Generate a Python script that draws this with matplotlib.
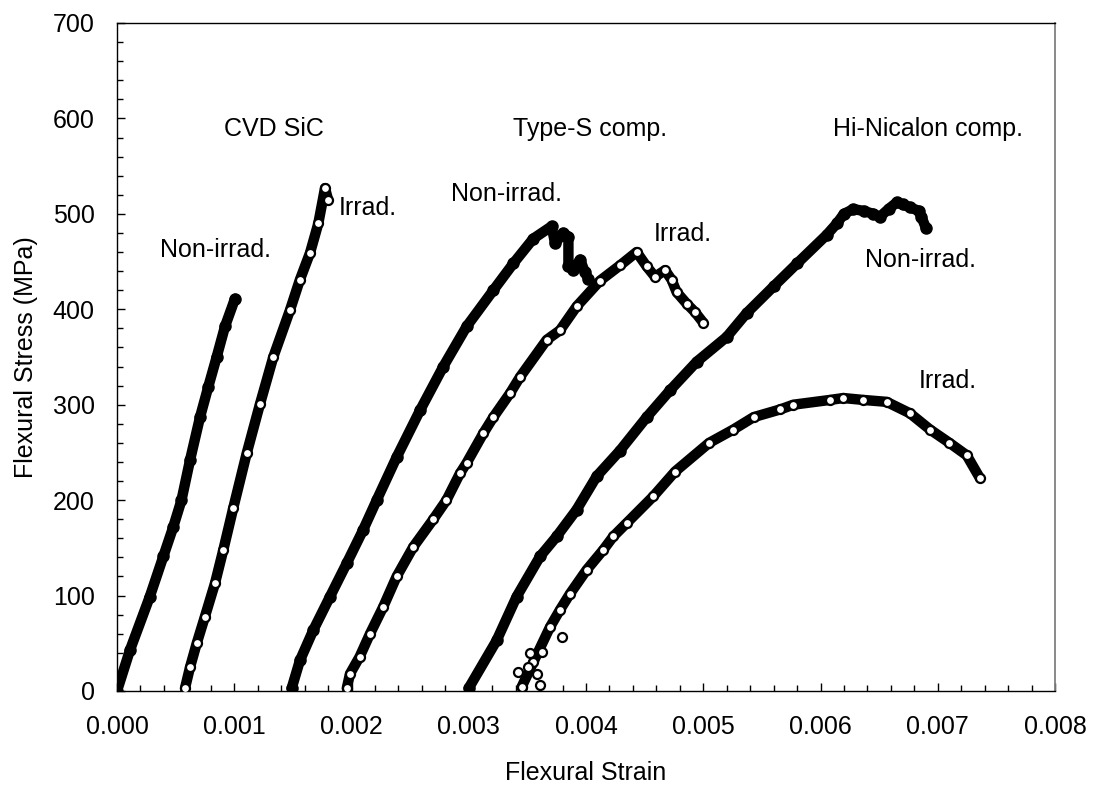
import matplotlib
matplotlib.use("Agg")
import matplotlib.pyplot as plt
from matplotlib.ticker import MultipleLocator, FormatStrFormatter

plt.rcParams['font.family'] = ['Liberation Sans', 'DejaVu Sans']

# ---- data ----
cvd_non_x = [0.0, 0.000111, 0.00028, 0.000395, 0.00048, 0.00055, 0.000623, 0.000708,
             0.000779, 0.00085, 0.000921, 0.001006]
cvd_non_y = [0, 43, 99, 141, 172, 200, 242, 287, 319, 350, 382, 411]

cvd_irr_x = [0.00058, 0.000623, 0.00068, 0.00075, 0.000836, 0.000907, 0.000992, 0.001106,
             0.00122, 0.001333, 0.001475, 0.00156, 0.001646, 0.001717, 0.001774, 0.001802]
cvd_irr_y = [3, 25, 50, 78, 113, 148, 192, 249, 301, 350, 399, 431, 459, 490, 527, 514]

tys_non_x = [0.00149, 0.00156, 0.001675, 0.001817, 0.00196, 0.0021, 0.002215, 0.002385,
             0.002584, 0.002783, 0.002982, 0.00321, 0.00338, 0.00355, 0.003707, 0.003736,
             0.003807, 0.00385, 0.00385, 0.00389, 0.00395, 0.00399, 0.00402]
tys_non_y = [3, 32, 64, 99, 134, 169, 200, 245, 294, 340, 382, 420, 448, 474, 487, 469,
             480, 476, 445, 441, 452, 439, 432]

tys_irr_x = [0.00196, 0.001987, 0.00207, 0.002158, 0.00227, 0.002385, 0.002527, 0.002698,
             0.00281, 0.002925, 0.002982, 0.003124, 0.00321, 0.003352, 0.003437, 0.003665,
             0.003778, 0.00392, 0.00412, 0.00429, 0.004432, 0.004517, 0.004589, 0.004674,
             0.00473, 0.004773, 0.004858, 0.00493, 0.005]
tys_irr_y = [3, 18, 36, 60, 88, 120, 151, 180, 200, 228, 239, 270, 287, 312, 329, 368,
             378, 403, 430, 446, 460, 445, 434, 441, 431, 418, 406, 397, 386]

hn_non_x = [0.003, 0.003238, 0.003409, 0.003608, 0.00375, 0.00392, 0.004091, 0.00429,
            0.004518, 0.004716, 0.004944, 0.0052, 0.00537, 0.0056, 0.0058, 0.006053,
            0.00614, 0.0062, 0.00628, 0.00637, 0.00645, 0.006507, 0.00658, 0.00665,
            0.0067, 0.00676, 0.00684, 0.00686, 0.0069]
hn_non_y = [3, 53, 99, 141, 162, 190, 225, 252, 287, 315, 345, 371, 396, 424, 448, 478,
            490, 500, 505, 503, 500, 497, 505, 512, 510, 507, 503, 497, 485]

hn_irr_start_x = [0.00345, 0.003423, 0.003508, 0.003522, 0.00358, 0.003608, 0.003622, 0.003793]
hn_irr_start_y = [4, 20, 25, 40, 18, 6, 41, 57]

hn_irr_x = [0.00345, 0.00355, 0.003693, 0.003778, 0.003864, 0.004006, 0.004148, 0.004233,
            0.004347, 0.004574, 0.00476, 0.00505, 0.005257, 0.00543, 0.005655, 0.005768,
            0.00608, 0.006195, 0.006365, 0.006564, 0.006763, 0.006934, 0.0071, 0.007247,
            0.00736]
hn_irr_y = [4, 30, 67, 85, 102, 127, 148, 162, 176, 204, 230, 260, 274, 287, 295, 300,
            305, 307, 305, 303, 291, 274, 260, 247, 223]

series = [
    (cvd_non_x, cvd_non_y, False),
    (cvd_irr_x, cvd_irr_y, True),
    (tys_non_x, tys_non_y, False),
    (tys_irr_x, tys_irr_y, True),
    (hn_non_x, hn_non_y, False),
    (hn_irr_x, hn_irr_y, True),
]

labels = [
    ("CVD SiC", 0.001335, 581.6, 'center'),
    ("Type-S comp.", 0.004035, 581.6, 'center'),
    ("Hi-Nicalon comp.", 0.00692, 581.6, 'center'),
    ("Non-irrad.", 0.000843, 455, 'center'),
    ("Irrad.", 0.001887, 499, 'left'),
    ("Non-irrad.", 0.003322, 513, 'center'),
    ("Irrad.", 0.004827, 471.5, 'center'),
    ("Non-irrad.", 0.006855, 444.6, 'center'),
    ("Irrad.", 0.007085, 317.2, 'center'),
]

# ---- figure ----
fig = plt.figure(figsize=(10.94, 7.86), dpi=100)
ax = fig.add_axes([0.10695, 0.12087, 0.85740, 0.84987])

for xs, ys, is_open in series:
    ax.plot(xs, ys, '-', color='black', lw=7.5, solid_capstyle='round',
            solid_joinstyle='round', zorder=2)
    if is_open:
        ax.plot(xs, ys, 'o', ms=6.5, mfc='white', mec='black', mew=1.6, ls='none', zorder=3)
    else:
        ax.plot(xs, ys, 'o', ms=8, mfc='black', mec='black', mew=1.0, ls='none', zorder=3)

ax.plot(hn_irr_start_x, hn_irr_start_y, 'o', ms=6.5, mfc='white', mec='black', mew=1.6,
        ls='none', zorder=3)

for txt, x, y, ha in labels:
    ax.text(x, y, txt, ha=ha, va='baseline', fontsize=18, color='black')

ax.set_xlim(0, 0.008)
ax.set_ylim(0, 700)
ax.xaxis.set_major_locator(MultipleLocator(0.001))
ax.xaxis.set_minor_locator(MultipleLocator(0.0002))
ax.yaxis.set_major_locator(MultipleLocator(100))
ax.yaxis.set_minor_locator(MultipleLocator(20))
ax.xaxis.set_major_formatter(FormatStrFormatter('%.3f'))
ax.tick_params(which='both', direction='in', top=False, right=False,
               labelsize=18, colors='black', width=1.0)
ax.tick_params(axis='x', which='major', length=6, pad=17)
ax.tick_params(axis='y', which='major', length=6, pad=16)
ax.tick_params(which='minor', length=4)

for s in ['left', 'bottom', 'top']:
    ax.spines[s].set_color('black')
    ax.spines[s].set_linewidth(1.0)
ax.spines['right'].set_color('#808080')
ax.spines['right'].set_linewidth(1.3)

ax.set_xlabel("Flexural Strain", fontsize=18, va='baseline')
ax.xaxis.set_label_coords(0.5, -0.1332)
ax.set_ylabel("Flexural Stress (MPa)", fontsize=18, va='baseline')
ax.yaxis.set_label_coords(-0.0892, 0.5)

fig.savefig("out.png", dpi=100)
